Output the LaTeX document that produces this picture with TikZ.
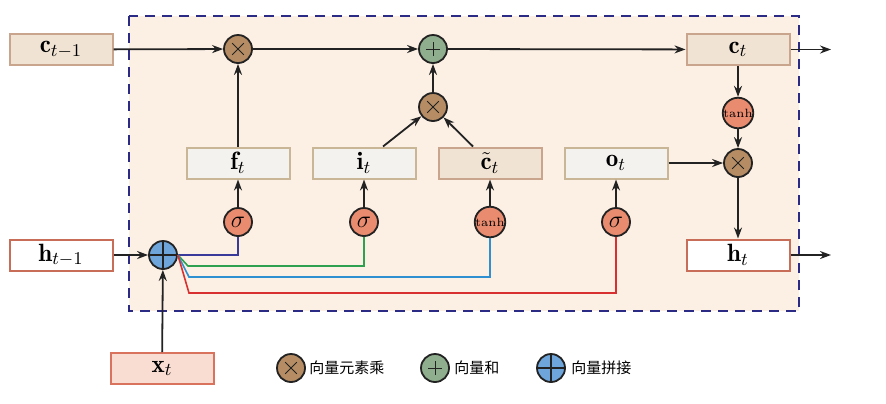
\documentclass[tikz,border=0pt]{standalone}
\usepackage{fontspec}
\newfontfamily\cjk{Noto Sans CJK SC}
\usetikzlibrary{arrows.meta}
\definecolor{peach}{HTML}{FCF0E4}
\definecolor{dashc}{HTML}{2B2A85}
\definecolor{cfill}{HTML}{F0E3D3}
\definecolor{cbord}{HTML}{C9A58E}
\definecolor{gfill}{HTML}{F4F2EE}
\definecolor{gbord}{HTML}{C9B697}
\definecolor{hbord}{HTML}{C86E58}
\definecolor{xfill}{HTML}{F9DDD2}
\definecolor{xbord}{HTML}{D9735E}
\definecolor{mulc}{HTML}{B58C63}
\definecolor{addc}{HTML}{8FAE8D}
\definecolor{catc}{HTML}{6EA6DC}
\definecolor{actc}{HTML}{E88B6F}
\definecolor{lnavy}{HTML}{3A3A9A}
\definecolor{lgreen}{HTML}{2EA050}
\definecolor{lcyan}{HTML}{2E90D0}
\definecolor{lred}{HTML}{D83030}
\definecolor{ink}{HTML}{222222}
\begin{document}
\begin{tikzpicture}[x=0.5pt,y=-0.5pt,
  font=\fontsize{12.5}{14}\selectfont,
  box/.style={draw, line width=1pt, minimum width=51.5pt, minimum height=15.5pt, inner sep=0pt},
  cbox/.style={box, draw=cbord, fill=cfill},
  gbox/.style={box, draw=gbord, fill=gfill},
  hbox/.style={box, draw=hbord, fill=white},
  xbox/.style={box, draw=xbord, fill=xfill},
  op/.style={circle, draw=ink, line width=0.9pt, minimum size=14pt, inner sep=0pt},
  mul/.style={op, fill=mulc, path picture={\draw[ink, line width=0.5pt]
      (path picture bounding box.center) +(-2.9pt,-2.9pt) -- +(2.9pt,2.9pt)
      (path picture bounding box.center) +(-2.9pt,2.9pt) -- +(2.9pt,-2.9pt);}},
  add/.style={op, fill=addc, path picture={\draw[ink, line width=0.5pt]
      (path picture bounding box.center) +(-3.4pt,0) -- +(3.4pt,0)
      (path picture bounding box.center) +(0,-3.4pt) -- +(0,3.4pt);}},
  cat/.style={op, fill=catc, path picture={\draw[ink, line width=0.8pt]
      (path picture bounding box.west) -- (path picture bounding box.east)
      (path picture bounding box.north) -- (path picture bounding box.south);}},
  act/.style={op, fill=actc},
  arr/.style={draw=ink, line width=0.9pt, -{Stealth[length=5.5pt,width=4pt]}},
  gate/.style={line width=0.8pt},
  legtxt/.style={anchor=west, inner sep=0pt, font=\cjk\fontsize{7.5}{9}\selectfont}
]
\useasboundingbox (0,0) rectangle (886,403);
\fill[white] (0,0) rectangle (886,403);
\draw[dashc, fill=peach, line width=1.3pt, dash pattern=on 5pt off 3.5pt] (129,16) rectangle (799,311);

% boxes
\node[cbox] (cprev) at (61,49.5) {$\mathbf{c}_{t-1}$};
\node[hbox] (hprev) at (61,255) {$\mathbf{h}_{t-1}$};
\node[xbox] (xt) at (162,368.5) {$\mathbf{x}_t$};
\node[cbox] (ct) at (738,49.5) {$\mathbf{c}_t$};
\node[hbox] (ht) at (738,255) {$\mathbf{h}_t$};
\node[gbox] (ft) at (238,163) {$\mathbf{f}_t$};
\node[gbox] (it) at (364,163) {$\mathbf{i}_t$};
\node[cbox] (cct) at (490,163) {$\tilde{\mathbf{c}}_t$};
\node[gbox] (ot) at (616,163) {$\mathbf{o}_t$};

% operators
\node[mul] (m1) at (238,49) {};
\node[add] (ad) at (433,49) {};
\node[mul] (m2) at (433,107) {};
\node[act] (tanhc) at (738,113) {\fontsize{6}{7}\selectfont tanh};
\node[mul] (m3) at (738,163) {};
\node[act] (sf) at (238,222) {$\sigma$};
\node[act] (si) at (364,222) {$\sigma$};
\node[act] (tc) at (490,222) {\fontsize{6}{7}\selectfont tanh};
\node[act] (so) at (616,222) {$\sigma$};
\node[cat] (cc) at (163,255) {};

\coordinate (cout) at (831,49.5);
\coordinate (hout) at (831,255);
\coordinate (gk) at (188,266);
\coordinate (bk) at (189,277);
\coordinate (rk) at (189,293);

% connectors
\draw[arr] (cprev) -- (m1);
\draw[arr] (m1) -- (ad);
\draw[arr] (ad) -- (ct);
\draw[arr] (ct) -- (cout);
\draw[arr] (ct) -- (tanhc);
\draw[arr] (tanhc) -- (m3);
\draw[arr] (m3) -- (ht);
\draw[arr] (ht) -- (hout);
\draw[arr] (ot) -- (m3);
\draw[arr] (ft) -- (m1);
\draw[arr] ([xshift=9.5pt]it.north) -- (m2);
\draw[arr] ([xshift=-8.5pt]cct.north) -- (m2);
\draw[arr] (m2) -- (ad);
\draw[arr] (sf) -- (ft);
\draw[arr] (si) -- (it);
\draw[arr] (tc) -- (cct);
\draw[arr] (so) -- (ot);
\draw[arr] (hprev) -- (cc);
\draw[arr] (xt) -- (cc);

\draw[gate, lnavy] (cc.east) -| (sf.south);
\draw[gate, lgreen] (cc.east) -- (gk) -| (si.south);
\draw[gate, lcyan] (cc.east) -- (bk) -| (tc.south);
\draw[gate, lred] (cc.east) -- (rk) -| (so.south);

% legend
\node[mul] (lm) at (291,368) {};
\node[legtxt] (lmt) at (309,368) {向量元素乘};
\node[add] (la) at (435,368) {};
\node[legtxt] (lat) at (454,368) {向量和};
\node[cat] (lc) at (551,368) {};
\node[legtxt] (lct) at (571,368) {向量拼接};
\end{tikzpicture}
\end{document}
